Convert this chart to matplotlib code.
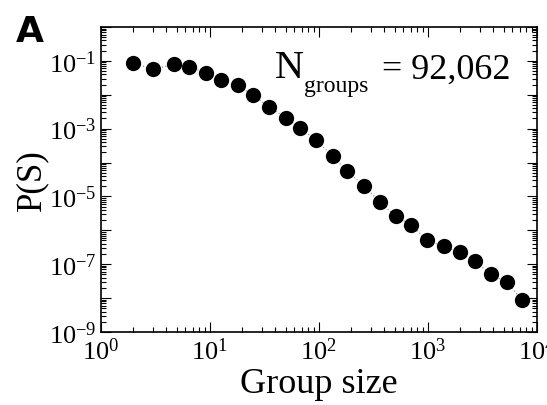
import numpy as np
import matplotlib
matplotlib.use("Agg")
import matplotlib.pyplot as plt
from matplotlib.ticker import LogLocator, FuncFormatter, NullFormatter

plt.rcParams['font.family'] = ['Liberation Serif', 'DejaVu Serif']
plt.rcParams['mathtext.fontset'] = 'custom'
plt.rcParams['mathtext.rm'] = 'Liberation Serif'
plt.rcParams['mathtext.it'] = 'Liberation Serif:italic'
plt.rcParams['mathtext.bf'] = 'Liberation Serif:bold'

# group size distribution
group_size = [2, 3, 4.7, 6.5, 9.3, 12.7, 18.1, 25.2, 35.1, 49.9, 68.1, 94.8,
              135, 184, 263, 366, 510, 710, 989, 1409, 1963, 2734, 3808, 5306, 7406]
p_s = [8.85e-2, 5.61e-2, 7.89e-2, 6.56e-2, 4.49e-2, 2.72e-2, 1.89e-2, 9.6e-3,
       4.34e-3, 2.11e-3, 1.02e-3, 4.52e-4, 1.52e-4, 5.5e-5, 1.99e-5, 6.7e-6,
       2.59e-6, 1.40e-6, 5.07e-7, 3.37e-7, 2.24e-7, 1.21e-7, 5.0e-8, 2.92e-8, 8.6e-9]
n_groups = "92,062"

fig = plt.figure(figsize=(5.47, 4.06), dpi=100)
ax = fig.add_axes([0.184, 0.180, 0.797, 0.751])

ax.plot(group_size, p_s, linestyle=':', color='#999999', linewidth=0.9, zorder=1)
ax.plot(group_size, p_s, linestyle='none', marker='o', markersize=11,
        markerfacecolor='black', markeredgewidth=0, zorder=2)

ax.set_xscale('log')
ax.set_yscale('log')
ax.set_xlim(1, 1e4)
ax.set_ylim(1e-9, 1)

ax.xaxis.set_major_locator(LogLocator(base=10, numticks=20))
ax.xaxis.set_minor_locator(LogLocator(base=10, subs=np.arange(2, 10), numticks=20))
ax.yaxis.set_major_locator(LogLocator(base=10, numticks=20))
ax.yaxis.set_minor_locator(LogLocator(base=10, subs=np.arange(2, 10), numticks=20))

def xfmt(v, pos):
    return r'$10^{%d}$' % round(np.log10(v))

def yfmt(v, pos):
    e = int(round(np.log10(v)))
    if e % 2 == 0:
        return ''
    return r'$10^{%d}$' % e

ax.xaxis.set_major_formatter(FuncFormatter(xfmt))
ax.yaxis.set_major_formatter(FuncFormatter(yfmt))
ax.xaxis.set_minor_formatter(NullFormatter())
ax.yaxis.set_minor_formatter(NullFormatter())

ax.tick_params(which='both', direction='in', top=True, right=True, width=0.8)
ax.tick_params(which='major', length=7, labelsize=19)
ax.tick_params(axis='x', which='major', pad=4)
ax.tick_params(axis='y', which='major', pad=3)
ax.tick_params(which='minor', length=3.5)
for s in ax.spines.values():
    s.set_linewidth(1.2)

ax.set_xlabel('Group size', fontsize=26, labelpad=2)
ax.set_ylabel('P(S)', fontsize=25, labelpad=0)

ax.text(0.40, 0.835, 'N', transform=ax.transAxes, fontsize=29, va='baseline', ha='left')
ax.text(0.466, 0.79, 'groups', transform=ax.transAxes, fontsize=17, va='baseline', ha='left')
ax.text(0.645, 0.835, '= ' + n_groups, transform=ax.transAxes, fontsize=26, va='baseline', ha='left')

fig.text(0.029, 0.897, 'A', fontsize=26, fontweight='bold', family='DejaVu Sans', va='baseline')

fig.savefig('out.png', dpi=100)
